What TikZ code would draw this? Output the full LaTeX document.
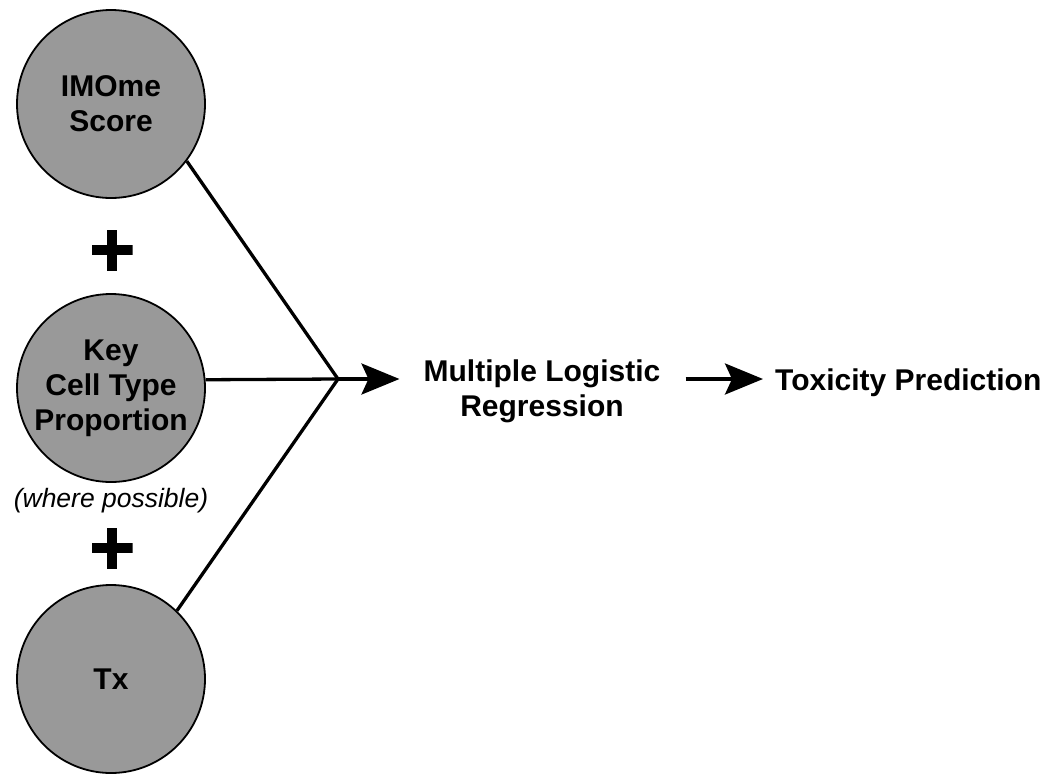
\documentclass[tikz,border=0pt]{standalone}
\usepackage{fontspec}
\setmainfont{Liberation Sans}
\usetikzlibrary{arrows.meta}

\definecolor{discgray}{HTML}{999999}

\begin{document}
\begin{tikzpicture}[x=1pt,y=-1pt,
  disc/.style={circle, draw=black, line width=1.8pt, fill=discgray,
    minimum size=188pt, inner sep=0pt, align=center,
    font=\fontsize{30}{35}\selectfont\bfseries},
  label/.style={inner sep=0pt, align=center,
    font=\fontsize{30}{35}\selectfont\bfseries},
  note/.style={inner sep=0pt, font=\fontsize{26.5}{30}\selectfont\itshape},
  plussign/.style={minimum size=41pt, inner sep=0pt,
    path picture={
      \fill ([xshift=-5.3pt]path picture bounding box.north) rectangle
            ([xshift=5.3pt]path picture bounding box.south);
      \fill ([yshift=-5.3pt]path picture bounding box.west) rectangle
            ([yshift=5.3pt]path picture bounding box.east);
    }},
  link/.style={line width=3.3pt},
  flow/.style={line width=3.3pt,
    -{Stealth[length=38pt, width=31pt, inset=7pt]}}
]
  \useasboundingbox (0,0) rectangle (1049,774);

  % input factors
  \node[disc] (imo) at (111,104) {IMOme\\Score};
  \node[plussign] (p1) at (112,250) {};
  \node[disc] (kct) at (111,388) {Key\\Cell Type\\Proportion};
  \node[note, anchor=base] (wp) at (111,507) {(where possible)};
  \node[plussign] (p2) at (112,548) {};
  \node[disc] (tx) at (111,679) {Tx};

  % model and outcome
  \coordinate (j) at (338,379);
  \node[label] (mlr) at (542,391) {Multiple Logistic\\Regression};
  \node[label, anchor=base west] (tox) at (775,390) {Toxicity Prediction};

  % factors merge into the model
  \draw[link, line join=miter] (imo.-37) -- (j);
  \draw[link] (kct.5.5) -- (j);
  \draw[link] (tx.46) -- (j);

  \draw[flow, shorten >=24pt] (j) -- (j -| mlr.west);
  \draw[flow, shorten <=25pt, shorten >=12pt] (j -| mlr.east) -- (j -| tox.west);
\end{tikzpicture}
\end{document}
